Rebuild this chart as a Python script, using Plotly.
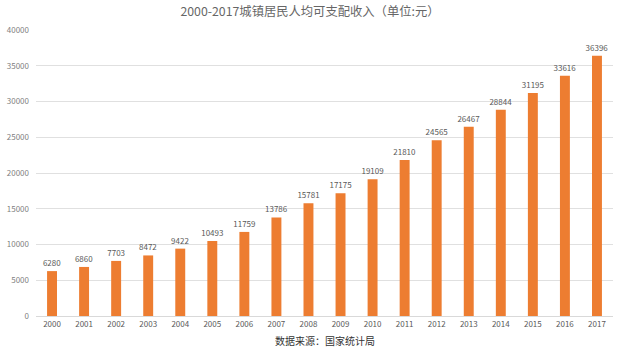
import plotly.graph_objects as go

years = [str(y) for y in range(2000, 2018)]
income = [6280, 6860, 7703, 8472, 9422, 10493, 11759, 13786, 15781, 17175,
          19109, 21810, 24565, 26467, 28844, 31195, 33616, 36396]
y_ticks = [0, 5000, 10000, 15000, 20000, 25000, 30000, 35000, 40000]
title_text = "2000-2017城镇居民人均可支配收入（单位:元）"
source_text = "数据来源：国家统计局"

font_family = "Noto Sans CJK SC, Noto Sans, sans-serif"

fig = go.Figure(go.Bar(
    x=years, y=income,
    marker=dict(color="#ED7D31", line=dict(width=0)),
    text=[str(v) for v in income], textposition="outside",
    constraintext="none",
    textfont=dict(size=8, color="#595959", family=font_family),
    cliponaxis=False,
))

fig.update_layout(
    width=620, height=348,
    margin=dict(l=32, r=7, t=30, b=32),
    paper_bgcolor="white", plot_bgcolor="white",
    bargap=0.69,
    showlegend=False,
    font=dict(family=font_family),
    title=dict(text=title_text, x=0.5, xanchor="center", y=0.965, yanchor="middle",
               font=dict(size=12.3, color="#666666", family=font_family)),
    xaxis=dict(type="category", showgrid=False, showline=True, linecolor="#d9d9d9",
               ticks="", tickfont=dict(size=8, color="#595959", family=font_family)),
    yaxis=dict(range=[0, 40000], tickvals=y_ticks, ticktext=[str(v) for v in y_ticks],
               showgrid=True, gridcolor="#e0e0e0",
               zeroline=False, ticks="", ticklabelstandoff=6,
               tickfont=dict(size=8, color="#7f7f7f", family=font_family)),
    annotations=[dict(text=source_text, xref="paper", yref="paper", x=0.5, y=0,
                      yshift=-24, xanchor="center", yanchor="middle", showarrow=False,
                      font=dict(size=10, color="#333333", family=font_family))],
)

fig.write_html("out.html")
